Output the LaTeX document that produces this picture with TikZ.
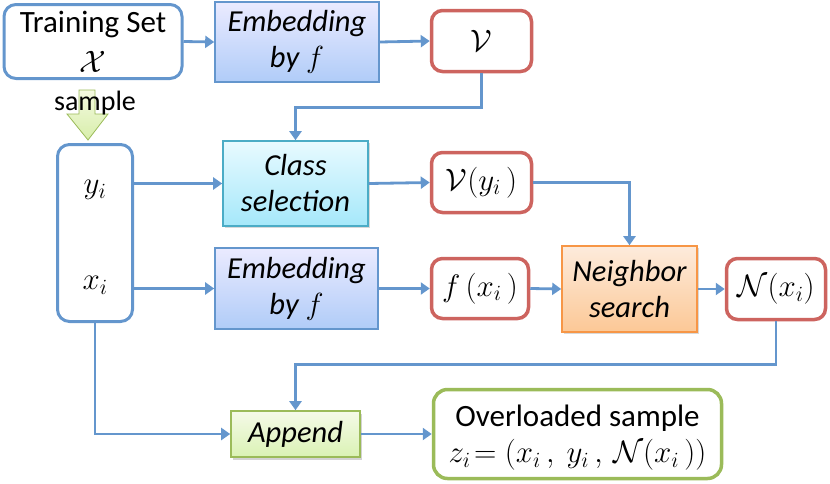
\RequirePackage{fix-cm}
\documentclass[tikz,border=0pt]{standalone}
\usepackage{fontspec}
\setmainfont{Carlito}
\usetikzlibrary{arrows.meta,shadows,calc}
\definecolor{lblue}{RGB}{100,150,205}
\definecolor{lred}{RGB}{205,100,95}
\definecolor{lgreen}{RGB}{155,187,89}
\definecolor{cyanb}{RGB}{75,172,198}
\definecolor{orangeb}{RGB}{247,150,70}
\tikzset{
  x=1pt,y=-1pt,
  every node/.style={font=\fontsize{31}{35}\selectfont, align=center, inner sep=0pt},
  rbox/.style={draw=lblue, line width=3pt, rounded corners=12pt, fill=white},
  redbox/.style={draw=lred, line width=3.5pt, rounded corners=11pt, fill=white},
  grnbox/.style={draw=lgreen, line width=3.5pt, rounded corners=14pt, fill=white},
  embbox/.style={draw=lblue, line width=1.6pt, top color=blue!8!white, bottom color={rgb,255:red,176;green,204;blue,248}, font=\fontsize{30.5}{36}\selectfont\itshape},
  clsbox/.style={draw=cyanb, line width=1.6pt, top color={rgb,255:red,232;green,250;blue,255}, bottom color={rgb,255:red,165;green,232;blue,250}, drop shadow={opacity=0.3,shadow xshift=1.5pt,shadow yshift=-2pt}, font=\fontsize{30.5}{36}\selectfont\itshape},
  nbbox/.style={draw=orangeb, line width=1.6pt, top color={rgb,255:red,253;green,235;blue,220}, bottom color={rgb,255:red,252;green,200;blue,150}, drop shadow={opacity=0.3,shadow xshift=1.5pt,shadow yshift=-2pt}, font=\fontsize{30.5}{36}\selectfont\itshape},
  appbox/.style={draw=lgreen, line width=1.6pt, top color={rgb,255:red,245;green,250;blue,232}, bottom color={rgb,255:red,218;green,242;blue,180}, drop shadow={opacity=0.35,shadow xshift=1.5pt,shadow yshift=-2.5pt}, font=\fontsize{30.5}{36}\selectfont\itshape},
  arr/.style={draw=lblue, line width=2.8pt, -{Triangle[length=9pt,width=12pt]}},
}
\begin{document}
\begin{tikzpicture}
\useasboundingbox (0,0) rectangle (830,483);
% nodes
\node[rbox, minimum width=178pt, minimum height=74pt] (train) at (93,41.5) {};
\node (trainT) at (93,24.5) {Training Set};
\node (trainX) at (93,62) {$\mathcal{X}$};
\node[embbox, minimum width=164pt, minimum height=80pt] (emb1) at (297,42) {Embedding\\by $f$};
\node[redbox, minimum width=100pt, minimum height=61pt] (V) at (481.5,41) {$\mathcal{V}$};
\node[rbox, minimum width=75pt, minimum height=177pt] (col) at (95,233) {};
\node (yi) at (95,190) {$y_i$};
\node (xi) at (95,285) {$x_i$};
\node[clsbox, minimum width=145pt, minimum height=85pt] (cls) at (295.5,183.5) {Class\\selection};
\node[embbox, minimum width=163pt, minimum height=81pt] (emb2) at (296.5,288.5) {Embedding\\by $f$};
\node[redbox, minimum width=100pt, minimum height=60pt] (Vy) at (481.5,182.5) {$\mathcal{V}(y_i\,)$};
\node[redbox, minimum width=97pt, minimum height=60pt] (fx) at (480,288.5) {$f\,(x_i\,)$};
\node[nbbox, minimum width=135pt, minimum height=86pt] (nb) at (629.5,289) {Neighbor\\search};
\node[redbox, minimum width=99pt, minimum height=61pt] (Nx) at (776,289) {$\mathcal{N}(x_i)$};
\node[appbox, minimum width=129pt, minimum height=46pt] (app) at (295.5,434) {Append};
\node[grnbox, minimum width=288pt, minimum height=89pt] (out) at (577.5,434) {};
\node (outT) at (577.5,418) {Overloaded sample};
\node (outZ) at (577.5,455) {$z_i\!=(x_i\,,\ y_i\,,\,\mathcal{N}(x_i\,))$};
% sample arrow
\draw[draw=lgreen, line width=0.8pt, top color={rgb,255:red,245;green,250;blue,225}, bottom color={rgb,255:red,215;green,238;blue,170}]
  (79,90) -- (95,90) -- (95,114) -- (108,114) -- (88,140) -- (67,114) -- (79,114) -- cycle;
\node[font=\fontsize{28}{30}\selectfont] (smp) at (95,103) {sample};
% connectors
\draw[arr] (train.east) -- (emb1.west);
\draw[arr] (emb1.east) -- (V.west);
\draw[arr] (V.south) -- ++(0,34) -| (cls.north);
\draw[arr] (cls.west -| col.east) -- (cls.west);
\draw[arr] (emb2.west -| col.east) -- (emb2.west);
\draw[arr] (cls.east) -- (Vy.west);
\draw[arr] (Vy.east) -| (nb.north);
\draw[arr] (emb2.east) -- (fx.west);
\draw[arr] (fx.east) -- (nb.west);
\draw[arr] (nb.east) -- (Nx.west);
\draw[arr] (Nx.south) -- ++(0,43) -| (app.north);
\draw[arr] (col.south) |- (app.west);
\draw[arr] (app.east) -- (out.west);
\end{tikzpicture}
\end{document}
